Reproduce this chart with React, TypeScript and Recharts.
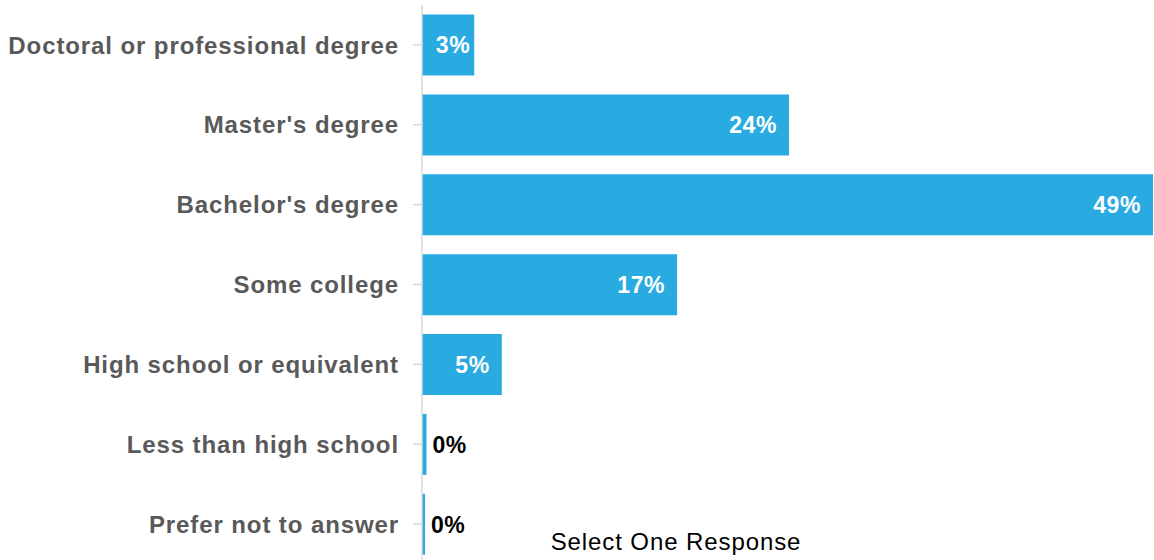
import React from 'react';
import { BarChart, Bar, XAxis, YAxis, LabelList } from 'recharts';

const categories = [
  'Doctoral or professional degree',
  "Master's degree",
  "Bachelor's degree",
  'Some college',
  'High school or equivalent',
  'Less than high school',
  'Prefer not to answer',
];
const values = [3.5, 24.6, 49.0, 17.1, 5.35, 0.3, 0.2];
const valueLabels = ['3%', '24%', '49%', '17%', '5%', '0%', '0%'];
const seriesName = 'Select One Response';

const data = categories.map((c, i) => ({ category: c, value: values[i], label: valueLabels[i] }));

const FONT = '"Liberation Sans", Arial, sans-serif';

const renderLabel = (props: any) => {
  const { x, y, width, height, index } = props;
  const text = valueLabels[index];
  const small = values[index] < 1;
  const cy = y + height / 2;
  const pad = width < 60 ? 4 : 12;
  return (
    <text
      x={small ? x + width + 6 : x + width - pad}
      y={cy}
      dy="0.36em"
      textAnchor={small ? 'start' : 'end'}
      fill={small ? '#000000' : '#ffffff'}
      fontFamily={FONT}
      fontWeight="bold"
      fontSize={23}
      letterSpacing={0.6}
    >
      {text}
    </text>
  );
};

const renderTick = (props: any) => {
  const { x, y, payload } = props;
  return (
    <text
      x={x}
      y={y}
      dy="0.36em"
      textAnchor="end"
      fill="#595959"
      fontFamily={FONT}
      fontWeight="bold"
      fontSize={24}
      letterSpacing={0.9}
    >
      {payload.value}
    </text>
  );
};

export default function App() {
  return (
    <div style={{ position: 'absolute', left: 0, top: 0, width: 1154, height: 560, overflow: 'hidden', background: '#fff' }}>
      <BarChart
        width={1154}
        height={570}
        data={data}
        layout="vertical"
        margin={{ top: 5, right: 1, bottom: 6, left: 0 }}
        barCategoryGap="12%"
      >
        <XAxis type="number" domain={[0, 'dataMax']} hide />
        <YAxis
          type="category"
          dataKey="category"
          width={422}
          axisLine={{ stroke: '#d9d9d9', strokeWidth: 1.5 }}
          tickLine={{ stroke: '#d9d9d9', strokeWidth: 1.5 }}
          tickSize={9}
          tickMargin={14}
          tick={renderTick}
          interval={0}
        />
        <Bar dataKey="value" name={seriesName} fill="#29abe2" isAnimationActive={false}>
          <LabelList dataKey="value" content={renderLabel} />
        </Bar>
        <text x={676} y={541} dy="0.36em" textAnchor="middle" fontFamily={FONT} fontSize={24} letterSpacing={0.9} fill="#000">
          {seriesName}
        </text>
      </BarChart>
    </div>
  );
}
